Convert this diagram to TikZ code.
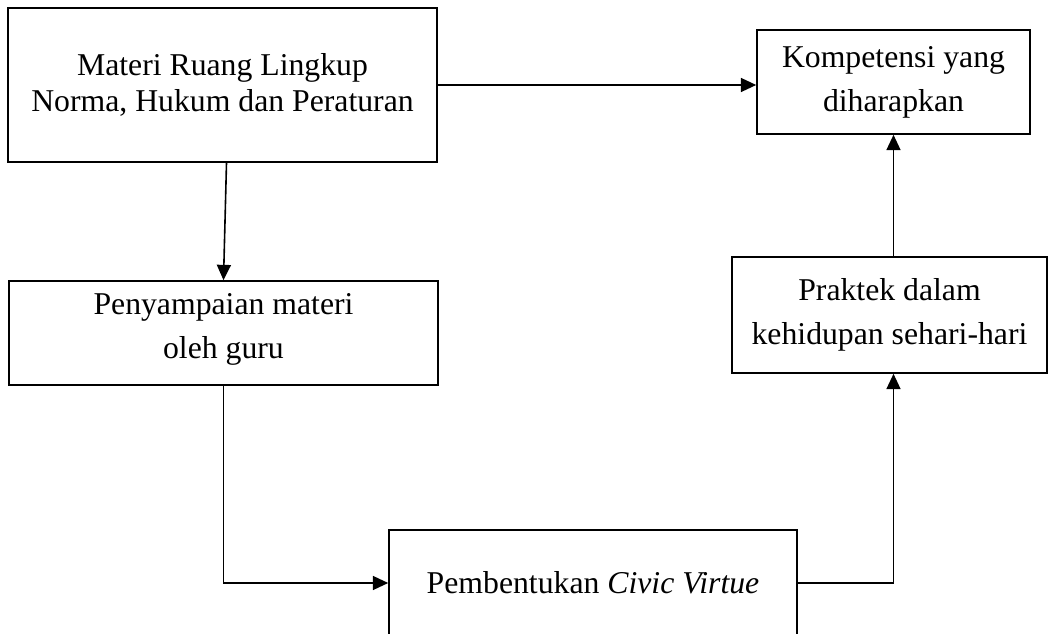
\documentclass[tikz,border=0pt]{standalone}
\usepackage{fontspec}
\setmainfont{Liberation Serif}
\usetikzlibrary{arrows.meta}
\begin{document}
\begin{tikzpicture}[x=0.75pt,y=-0.75pt,
  box/.style={draw,line width=1.2pt,align=center,inner sep=0pt,
    font=\fontsize{23.8}{33}\selectfont},
  conn/.style={line width=1.2pt},
  arr/.style={conn,-{Triangle[length=11.5pt,width=10.5pt]}}]
\clip (0,0) rectangle (1050,634);
\node[box,minimum width=321.75pt,minimum height=115.5pt,
  font=\fontsize{23.8}{27}\selectfont] (b1) at (222.5,85)
  {Materi Ruang Lingkup\\Norma, Hukum dan Peraturan};
\node[box,minimum width=204.75pt,minimum height=78pt] (b2) at (893.5,82)
  {Kompetensi yang\\diharapkan};
\node[box,minimum width=321.75pt,minimum height=78pt] (b3) at (223.5,333)
  {Penyampaian materi\\oleh guru\vspace{6pt}};
\node[box,minimum width=236.25pt,minimum height=87pt] (b4) at (889.5,315)
  {Praktek dalam\\kehidupan sehari-hari};
\node[box,minimum width=306pt,minimum height=79.5pt] (b5) at (593,583)
  {Pembentukan \textit{Civic Virtue}};
\draw[arr] (b1.east) -- (b1.east -| b2.west);
\draw[arr] ([xshift=3pt]b1.south) -- (b3.north);
\draw[arr] (b3.south) |- (b5.west);
\draw[arr] (b5.east) -| (b4.south -| b2.south);
\draw[arr] (b4.north -| b2.south) -- (b2.south);
\end{tikzpicture}
\end{document}
